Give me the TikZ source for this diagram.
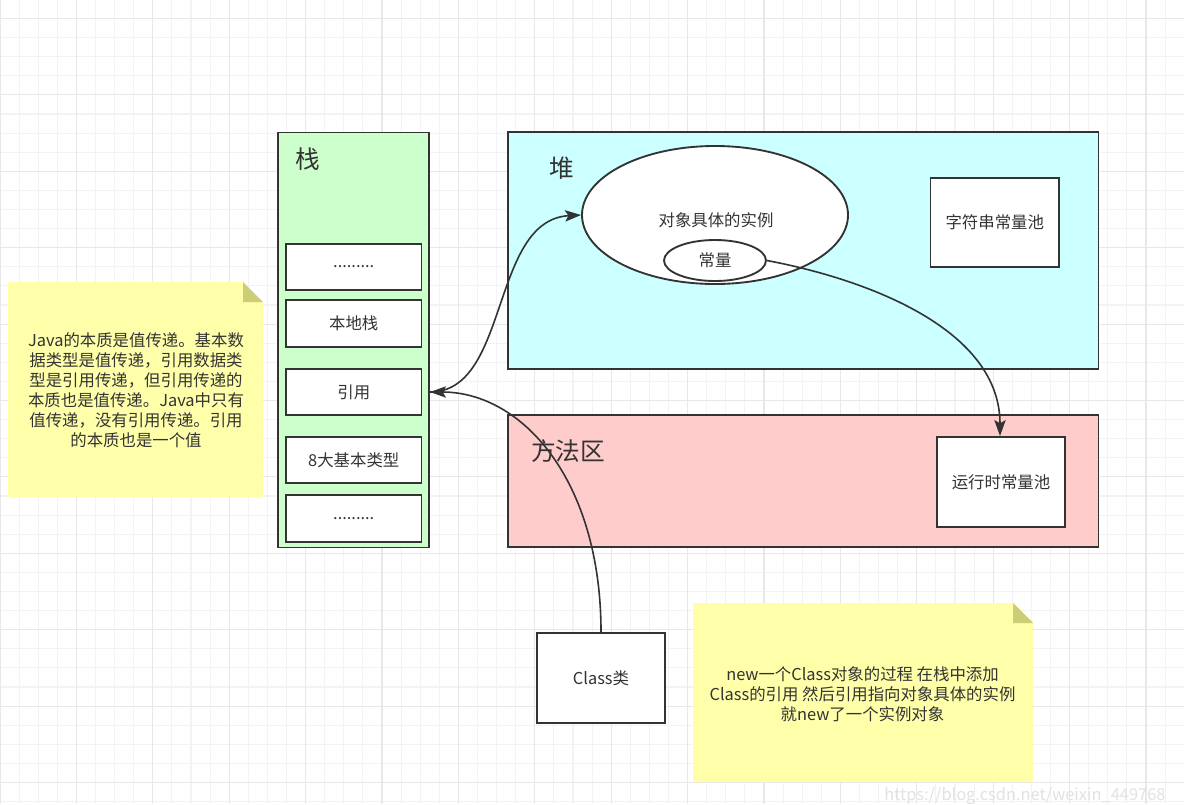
\documentclass[tikz,border=0pt]{standalone}
\usepackage{fontspec}
\setmainfont{Noto Sans CJK SC}
\usetikzlibrary{arrows.meta,shapes.geometric}
\definecolor{ink}{HTML}{333333}
\definecolor{txt}{HTML}{333333}
\definecolor{stackfill}{HTML}{CCFFCC}
\definecolor{heapfill}{HTML}{CCFFFF}
\definecolor{methodfill}{HTML}{FFCCCC}
\definecolor{notefill}{HTML}{FFFFAA}
\definecolor{notefold}{HTML}{CDCD77}
\definecolor{gridminor}{HTML}{F3F3F3}
\definecolor{gridmajor}{HTML}{E8E8E8}
\definecolor{wmark}{HTML}{E2E2E2}

\tikzset{
  region/.style={draw=ink, line width=1.4pt, inner sep=0pt},
  cell/.style={draw=ink, line width=1.4pt, fill=white, inner sep=0pt,
               text=txt, font=\fontsize{12.3pt}{14pt}\selectfont},
  blob/.style={ellipse, draw=ink, line width=1.4pt, fill=white, inner sep=0pt,
               text=txt, font=\fontsize{12.3pt}{14pt}\selectfont},
  title/.style={text=txt, font=\fontsize{18.5pt}{20pt}\selectfont, inner sep=0pt},
  notetext/.style={text=txt, align=center, inner sep=0pt,
               font=\fontsize{12.3pt}{15pt}\selectfont},
  link/.style={draw=ink, line width=1.2pt,
               -{Stealth[length=12pt, width=8.5pt, inset=2.5pt]}},
}

\begin{document}
\begin{tikzpicture}[x=0.75pt, y=-0.75pt]
\useasboundingbox (0,0) rectangle (1184,804);
\clip (0,0) rectangle (1184,804);
\fill[white] (0,0) rectangle (1184,804);

% background grid
\foreach \i in {0,...,62} {
  \draw[gridminor, line width=0.8pt] ({\i*19.1},0) -- ({\i*19.1},804);
}
\foreach \j in {0,...,42} {
  \draw[gridminor, line width=0.8pt] (0,{18.5+(\j-1)*19.1}) -- (1184,{18.5+(\j-1)*19.1});
}
\foreach \i in {0,...,15} {
  \draw[gridmajor, line width=0.8pt] ({\i*76.4},0) -- ({\i*76.4},804);
}
\foreach \j in {0,...,10} {
  \draw[gridmajor, line width=0.8pt] (0,{18.5+\j*76.4}) -- (1184,{18.5+\j*76.4});
}

% stack
\node[region, fill=stackfill, minimum width=113.25pt, minimum height=311.25pt]
  (stack) at (353.5,340) {};
\node[title] (stacklbl) at (308,159) {栈};
\node[cell, minimum width=101.6pt, minimum height=34.5pt] (dotsA) at (353.75,267) {.........};
\node[cell, minimum width=101.6pt, minimum height=35.25pt] (native) at (353.75,323.5) {本地栈};
\node[cell, minimum width=101.6pt, minimum height=34.5pt] (ref) at (353.75,392) {引用};
\node[cell, minimum width=101.6pt, minimum height=34.5pt] (prim) at (353.75,460) {8大基本类型};
\node[cell, minimum width=101.6pt, minimum height=35.25pt] (dotsB) at (353.75,518.5) {.........};

% heap
\node[region, fill=heapfill, minimum width=442.9pt, minimum height=177.75pt]
  (heap) at (803.25,250.5) {};
\node[title] (heaplbl) at (562,168) {堆};
\node[blob, minimum width=199.5pt, minimum height=103.5pt] (obj) at (715,215) {};
\node[text=txt, font=\fontsize{12.3pt}{14pt}\selectfont, inner sep=0pt] (objlbl) at (716,220) {对象具体的实例};
\node[blob, minimum width=76.5pt, minimum height=30.75pt] (const) at (715,260.5) {常量};
\node[cell, minimum width=96.4pt, minimum height=66.75pt] (strpool) at (994.75,222.5) {字符串常量池};

% method area
\node[region, fill=methodfill, minimum width=442.9pt, minimum height=99pt]
  (method) at (803.25,481) {};
\node[title] (methodlbl) at (568,451) {方法区};
\node[cell, minimum width=96pt, minimum height=67.5pt] (runtime) at (1001,482) {运行时常量池};

% class box
\node[cell, minimum width=96pt, minimum height=67.5pt] (cls) at (601,678) {Class类};

% note about value passing
\fill[notefill] (8,282) -- (243,282) -- (263,302) -- (263,497) -- (8,497) -- cycle;
\fill[notefold] (243,282) -- (263,302) -- (243,302) -- cycle;
\node[notetext] (note1) at (136,390) {Java的本质是值传递。基本数\\据类型是值传递，引用数据类\\型是引用传递，但引用传递的\\本质也是值传递。Java中只有\\值传递，没有引用传递。引用\\的本质也是一个值};

% note about object creation
\fill[notefill] (693,603) -- (1013,603) -- (1033,623) -- (1033,782) -- (693,782) -- cycle;
\fill[notefold] (1013,603) -- (1033,623) -- (1013,623) -- cycle;
\node[notetext] (note2) at (862.5,694) {new一个Class对象的过程 在栈中添加\\Class的引用 然后引用指向对象具体的实例\\就new了一个实例对象};

% connectors
\coordinate (refport) at (430,392);
\draw[link] (cls.north) .. controls (601,480) and (522,392) .. (refport);
\draw[link] (refport) .. controls (510,392) and (490,220) .. (obj.west);
\draw[link] (const.east) .. controls (870,280) and (1000,330) .. (runtime.north -| 1000,0);

% watermark
\node[anchor=base west, text=wmark, inner sep=0pt, font=\fontsize{12.3pt}{14pt}\selectfont]
  (wm) at (884,800) {https://blog.csdn.net/weixin\_449768};
\end{tikzpicture}
\end{document}
